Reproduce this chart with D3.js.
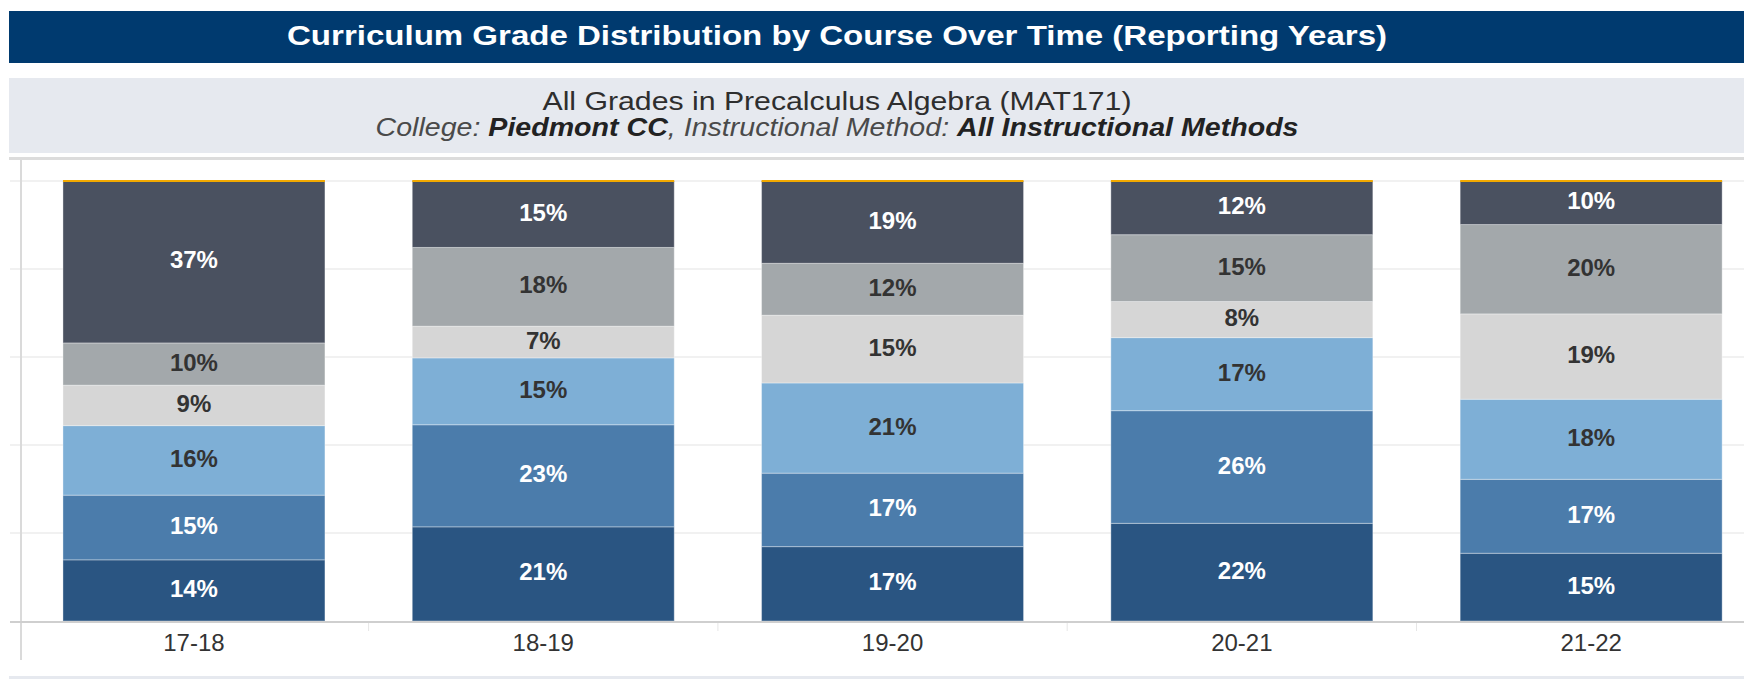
<!DOCTYPE html>
<html>
<head>
<meta charset="utf-8">
<script src="https://cdn.jsdelivr.net/npm/d3@7"></script>
<style>
  html, body { margin: 0; padding: 0; background: #fff; }
  svg { display: block; font-family: "Liberation Sans", Arial, sans-serif; }
</style>
</head>
<body>
<svg id="chart" width="1744" height="679"></svg>
<script>
// ---- Data ----
const years = ["17-18", "18-19", "19-20", "20-21", "21-22"];
const grades = ["A", "B", "C", "D", "F", "W"]; // bottom to top
const gradeA = [13.9, 21.4, 16.9, 22.2, 15.4];
const gradeB = [14.7, 23.2, 16.7, 25.6, 16.8];
const gradeC = [15.8, 15.2, 20.5, 16.6, 18.2];
const gradeD = [9.2, 7.2, 15.4, 8.2, 19.4];
const gradeF = [9.6, 17.9, 11.8, 15.2, 20.3];
const gradeW = [36.8, 15.1, 18.7, 12.2, 9.9];
const gridTicks = [0, 20, 40, 60, 80, 100];

const titleText = "Curriculum Grade Distribution by Course Over Time (Reporting Years)";
const subtitle1 = "All Grades in Precalculus Algebra (MAT171)";
const subtitle2 = [
  { t: "College: ", b: false },
  { t: "Piedmont CC", b: true },
  { t: ", Instructional Method: ", b: false },
  { t: "All Instructional Methods", b: true }
];

// ---- Styles ----
const colors = { A: "#2a5582", B: "#4b7cab", C: "#7eafd6", D: "#d6d6d6", F: "#a3a8ab", W: "#4a5160" };
const labelColors = { A: "#ffffff", B: "#ffffff", C: "#333333", D: "#333333", F: "#333333", W: "#ffffff" };

const svg = d3.select("#chart");
const W = 1744, H = 679;

// Header bar
svg.append("rect").attr("x", 9).attr("y", 11).attr("width", W - 9).attr("height", 52).attr("fill", "#003a6f");
svg.append("text").attr("x", 837).attr("y", 36).attr("text-anchor", "middle").attr("dominant-baseline", "central")
  .attr("fill", "#fff").attr("font-weight", "bold").attr("font-size", 27)
  .attr("textLength", 1100).attr("lengthAdjust", "spacingAndGlyphs")
  .text(titleText);

// Subtitle box
svg.append("rect").attr("x", 9).attr("y", 78).attr("width", W - 9).attr("height", 75).attr("fill", "#e6e9ef");
svg.append("rect").attr("x", 9).attr("y", 157).attr("width", W - 9).attr("height", 3).attr("fill", "#dcdcdc");
svg.append("text").attr("x", 837).attr("y", 101).attr("text-anchor", "middle").attr("dominant-baseline", "central")
  .attr("fill", "#2e2e2e").attr("font-size", 25)
  .attr("textLength", 589).attr("lengthAdjust", "spacingAndGlyphs")
  .text(subtitle1);
const s2 = svg.append("text").attr("x", 837).attr("y", 127).attr("text-anchor", "middle").attr("dominant-baseline", "central")
  .attr("fill", "#333").attr("font-size", 25).attr("font-style", "italic")
  .attr("textLength", 923).attr("lengthAdjust", "spacingAndGlyphs");
s2.selectAll("tspan").data(subtitle2).join("tspan")
  .attr("font-weight", d => d.b ? "bold" : "normal")
  .attr("fill", d => d.b ? "#222" : "#4a4a4a")
  .text(d => d.t);

// Bottom strip
svg.append("rect").attr("x", 9).attr("y", 676).attr("width", W - 9).attr("height", 3).attr("fill", "#e6e9ef");

// ---- Scales ----
const x = d3.scaleBand().domain(years).range([19.3, 1765.8]).paddingInner(0.25).paddingOuter(0.125);
const y = d3.scaleLinear().domain([0, 100]).range([621, 181]);

// Gridlines
svg.append("g").selectAll("line").data(gridTicks.slice(1)).join("line")
  .attr("x1", 10).attr("x2", W).attr("y1", d => y(d)).attr("y2", d => y(d))
  .attr("stroke", "#ececec").attr("stroke-width", 1.5);

// Left axis line
svg.append("line").attr("x1", 21).attr("x2", 21).attr("y1", 160).attr("y2", 660)
  .attr("stroke", "#dadada").attr("stroke-width", 2);

// Stack
const table = years.map((yr, i) => ({
  year: yr, A: gradeA[i], B: gradeB[i], C: gradeC[i], D: gradeD[i], F: gradeF[i], W: gradeW[i]
}));
const series = d3.stack().keys(grades)(table);

const gBars = svg.append("g");
series.forEach(s => {
  const key = s.key;
  gBars.append("g").selectAll("rect").data(s).join("rect")
    .attr("x", d => x(d.data.year))
    .attr("width", x.bandwidth())
    .attr("y", d => y(d[1]))
    .attr("height", d => y(d[0]) - y(d[1]))
    .attr("fill", colors[key])
    .attr("stroke", "rgba(255,255,255,0.35)")
    .attr("stroke-width", 1);
});

// Top cap line (thin orange series edge)
const topSeries = series[series.length - 1];
gBars.append("g").selectAll("line").data(topSeries).join("line")
  .attr("x1", d => x(d.data.year)).attr("x2", d => x(d.data.year) + x.bandwidth())
  .attr("y1", d => y(d[1])).attr("y2", d => y(d[1]))
  .attr("stroke", "#f2a900").attr("stroke-width", 2);

// Labels
series.forEach(s => {
  const key = s.key;
  gBars.append("g").selectAll("text").data(s).join("text")
    .attr("x", d => x(d.data.year) + x.bandwidth() / 2)
    .attr("y", d => (y(d[0]) + y(d[1])) / 2 - 2)
    .attr("text-anchor", "middle").attr("dominant-baseline", "central")
    .attr("font-weight", "bold").attr("font-size", 24)
    .attr("fill", labelColors[key])
    .text(d => Math.round(d.data[key]) + "%");
});

// X axis
const xAxis = d3.axisBottom(x).tickSize(0).tickPadding(12);
const gx = svg.append("g").attr("transform", `translate(0,${y(0) + 1})`).call(xAxis);
gx.select(".domain").remove();
gx.selectAll("text").attr("font-size", 24).attr("fill", "#333").attr("font-family", "'Liberation Sans', Arial, sans-serif")
  .attr("dy", "0.71em");
// Baseline
svg.append("line").attr("x1", 10).attr("x2", W).attr("y1", y(0) + 1).attr("y2", y(0) + 1)
  .attr("stroke", "#cfcfcf").attr("stroke-width", 2);
// Category separator ticks
const bounds = years.slice(1).map(yr => x(yr) - x.step() * x.paddingInner() / 2);
svg.append("g").selectAll("line").data(bounds).join("line")
  .attr("x1", d => d).attr("x2", d => d).attr("y1", y(0) + 2).attr("y2", y(0) + 10)
  .attr("stroke", "#e6e6e6").attr("stroke-width", 1);
</script>
</body>
</html>
